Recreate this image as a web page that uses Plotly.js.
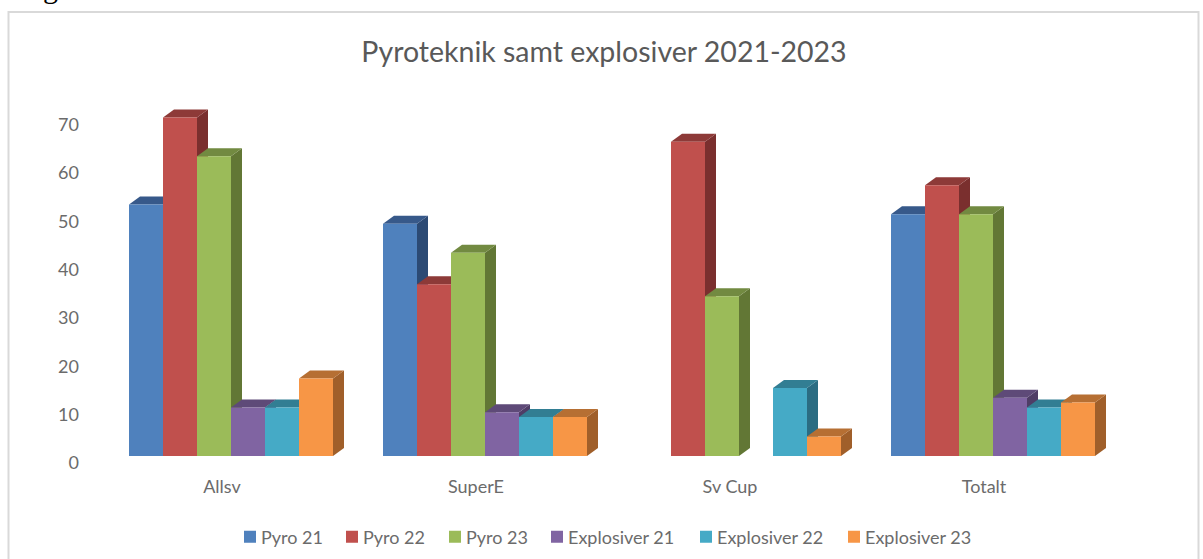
<!DOCTYPE html>
<html>
<head>
<meta charset="utf-8">
<script src="https://cdn.plot.ly/plotly-3.0.1.min.js"></script>
<style>html,body{margin:0;padding:0;background:#fff;overflow:hidden}</style>
</head>
<body>
<div id="chart" style="width:1203px;height:559px"></div>
<script>
const categories = ["Allsv", "SuperE", "Sv Cup", "Totalt"];
const seriesNames = ["Pyro 21", "Pyro 22", "Pyro 23", "Explosiver 21", "Explosiver 22", "Explosiver 23"];
const pyro21 = [53.5, 49.5, null, 51.5];
const pyro22 = [71.5, 37, 66.5, 57.5];
const pyro23 = [63.5, 43.5, 34.5, 51.5];
const explosiver21 = [11.5, 10.5, null, 13.5];
const explosiver22 = [11.5, 9.5, 15.5, 11.5];
const explosiver23 = [17.5, 9.5, 5.5, 12.5];
const seriesValues = [pyro21, pyro22, pyro23, explosiver21, explosiver22, explosiver23];
const frontColors = ["#4f81bd", "#c0504d", "#9bbb59", "#8064a2", "#45aac6", "#f79646"];
const topColors = ["#37598a", "#8d3a38", "#728a41", "#5e4a78", "#327e93", "#b66f33"];
const sideColors = ["#2c4a74", "#7a2f2e", "#627735", "#4f3d66", "#2b6c82", "#a05f2a"];

const W = 1203, H = 559;
const plotL = 80, plotR = 1120, plotT = 91, plotB = 463;
const catPx = 254, unitPx = 4.831;
const catZero = 222;
const barW = 34 / catPx, shift = 9 / catPx;
const depthX = 11 / catPx, depthY = 8 / unitPx, floor = 7 / unitPx;

const traces = [];
seriesValues.forEach((vals, s) => {
  const xs = vals.map((v, i) => i + shift + (s - 2.5) * barW);
  const topX = [], topY = [], sideX = [], sideY = [];
  vals.forEach((v, i) => {
    if (v === null) return;
    const l = xs[i] - barW / 2, r = xs[i] + barW / 2;
    topX.push(l, r, r + depthX, l + depthX, l, null);
    topY.push(v, v, v + depthY, v + depthY, v, null);
    sideX.push(r, r + depthX, r + depthX, r, r, null);
    sideY.push(floor, floor + depthY, v + depthY, v, floor, null);
  });
  const face = (x, y, c) => ({
    type: "scatter", mode: "lines", x, y, fill: "toself", fillcolor: c,
    line: {width: 0, color: c}, hoverinfo: "skip", showlegend: false, zorder: 2 * s
  });
  traces.push(face(sideX, sideY, sideColors[s]));
  traces.push(face(topX, topY, topColors[s]));
  traces.push({
    type: "bar", name: seriesNames[s], x: xs,
    y: vals.map(v => v === null ? null : v - floor),
    base: floor, width: barW, marker: {color: frontColors[s], line: {width: 0}},
    zorder: 2 * s + 1
  });
});

const textGray = "#6b6b6b";
const px = v => (v - plotL) / (plotR - plotL);
const py = v => (plotB - v) / (plotB - plotT);

const layout = {
  width: W, height: H,
  margin: {l: plotL, r: W - plotR, t: plotT, b: H - plotB, pad: 0},
  paper_bgcolor: "#ffffff", plot_bgcolor: "rgba(0,0,0,0)",
  barmode: "overlay",
  font: {family: "Lato, Carlito, sans-serif", color: textGray, size: 18},
  title: {text: "Pyroteknik samt explosiver 2021-2023", x: 604 / W, xanchor: "center",
          y: 1 - 52 / H, yanchor: "middle", font: {size: 28.5, color: "#595959"}},
  xaxis: {range: [(plotL - catZero) / catPx, (plotR - catZero) / catPx],
          tickvals: categories.map((c, i) => i), ticktext: categories,
          showgrid: false, zeroline: false, showline: false,
          ticks: "outside", ticklen: 7, tickcolor: "rgba(0,0,0,0)", fixedrange: true},
  yaxis: {range: [0, (plotB - plotT) / unitPx], tickvals: [0, 10, 20, 30, 40, 50, 60, 70],
          showgrid: false, zeroline: false, showline: false, ticks: "", fixedrange: true},
  legend: {orientation: "h", xref: "container", yref: "container",
           x: 221 / W, xanchor: "left", y: 1 - 537 / H, yanchor: "middle",
           font: {size: 18, color: textGray}, bgcolor: "rgba(0,0,0,0)", traceorder: "normal"},
  shapes: [{type: "rect", xref: "paper", yref: "paper", layer: "below",
            x0: px(8.5), x1: px(1198.5), y0: py(580), y1: py(12),
            line: {color: "#d9d9d9", width: 2}, fillcolor: "#ffffff"}],
  annotations: [{text: "g", xref: "paper", yref: "paper", x: px(50), y: py(6), xanchor: "center",
                 yanchor: "bottom", showarrow: false,
                 font: {family: "Liberation Serif", size: 30, color: "#000000"}}]
};

// Legend entries sit at the reference's spacing; swatches close up to their labels.
const legendTextX = [261, 363, 466, 568, 717, 865];
const swatchNudge = 9;

Plotly.newPlot("chart", traces, layout, {displayModeBar: false}).then(gd => {
  const legend = gd.querySelector(".legend");
  if (!legend) return;
  const first = legendTextX[0];
  legend.querySelectorAll(".traces").forEach((g, i) => {
    const m = /translate\(\s*([-\d.]+)[ ,]+([-\d.]+)/.exec(g.getAttribute("transform") || "");
    if (!m) return;
    g.setAttribute("transform", "translate(" + (legendTextX[i] - first) + "," + m[2] + ")");
    const sym = g.querySelector(".legendsymbols");
    if (sym) sym.setAttribute("transform", "translate(" + swatchNudge + ",0)");
  });
});
</script>
</body>
</html>
